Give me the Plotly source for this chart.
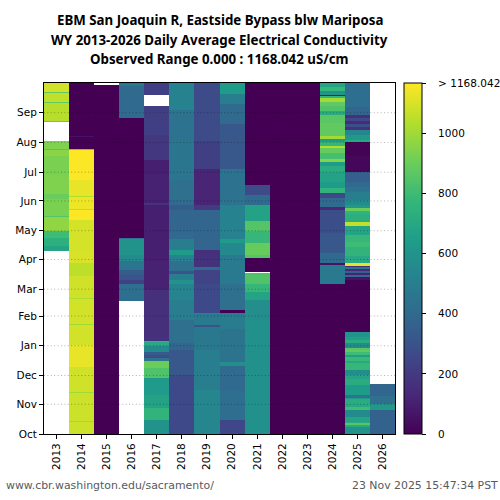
import plotly.graph_objects as go

# water years and month ticks (days since Oct 1)
years = list(range(2013, 2027))
month_days = [0, 31, 61, 92, 123, 151, 182, 212, 243, 273, 304, 335]
month_names = ['Oct', 'Nov', 'Dec', 'Jan', 'Feb', 'Mar', 'Apr', 'May', 'Jun', 'Jul', 'Aug', 'Sep']
cbar_vals = [0, 200, 400, 600, 800, 1000, 1168.042]
cbar_text = ['\u00a0\u00a0\u00a0' + s for s in ['0', '200', '400', '600', '800', '1000', '> 1168.042']]
ec_max = 1168.042

# daily EC per water year (last day of run, uS/cm)
# None = no data
ec_2013 = [(191, None), (196, 680), (204, 740), (212, 800), (226, 970), (227, 850), (245, 930), (250, 900),
           (270, 940), (290, 930), (296, 960), (297, 850), (306, 940), (325, None), (326, 880), (345, 1040),
           (346, 880), (356, 1060), (357, 880), (366, 1090)]
ec_2014 = [(13, 1080), (14, 1000), (43, 1080), (44, 1000), (70, 1085), (93, 1130), (114, 1090), (115, 1000),
           (141, 1090), (142, 1020), (165, 1085), (178, 1050), (190, 1100), (223, 1095), (234, 1168), (235, 1040),
           (247, 1140), (248, 1030), (265, 1130), (286, 1165), (296, 1168), (297, 900), (310, 0), (311, 60), (366, 0)]
ec_2015 = [(364, 0), (366, None)]
ec_2016 = [(139, None), (156, 420), (161, 230), (166, 300), (171, 340), (180, 460), (187, 560), (203, 600),
           (204, 440), (329, 0), (330, 320), (363, 400), (366, 480)]
ec_2017 = [(15, 600), (27, 760), (41, 670), (58, 630), (69, 840), (76, 900), (79, 440), (82, 280), (86, 340),
           (92, 560), (96, 700), (97, 760), (101, 170), (150, 160), (180, 110), (239, 100), (241, 170), (270, 110),
           (286, 100), (312, 190), (342, 220), (353, None), (366, 220)]
ec_2018 = [(62, 260), (88, 320), (95, 380), (119, 430), (140, 500), (156, 530), (161, 600), (167, 500), (170, 300),
           (180, 430), (187, 520), (192, 640), (203, 500), (212, 400), (234, 380), (239, 340), (244, 400), (265, 430),
           (306, 460), (338, 440), (366, 520)]
ec_2019 = [(46, 540), (88, 500), (112, 470), (114, 300), (125, 480), (126, 520), (156, 260), (171, 240), (174, 400),
           (187, 170), (192, 160), (234, 380), (239, 200), (276, 120), (306, 220), (366, 270)]
ec_2020 = [(15, 250), (45, 420), (71, 400), (75, 580), (110, 450), (126, 490), (129, 0), (156, 430), (187, 480),
           (199, 550), (203, 640), (239, 520), (276, 440), (323, 320), (344, 400), (355, 500), (366, 640)]
ec_2021 = [(119, 590), (140, 575), (148, 680), (156, 780), (168, 840), (169, None), (183, 0), (187, 850), (199, 890),
           (212, 780), (222, 850), (239, 670), (249, 400), (260, 270), (366, 0)]
ec_2022 = [(366, 0)]
ec_2023 = [(366, 0)]
ec_2024 = [(156, 0), (176, 480), (178, 60), (189, 400), (210, 320), (234, 280), (237, 130), (246, 400), (251, 250),
           (256, 760), (263, 640), (273, 670), (279, 720), (284, 640), (287, 950), (293, 820), (298, 890), (300, 1030),
           (304, 780), (308, 640), (311, 1000), (324, 880), (333, 860), (337, 720), (342, 840), (346, 880), (350, 1000),
           (352, 760), (354, 80), (358, 600), (362, 780), (366, 680)]
ec_2025 = [(7, 600), (9, 700), (11, 860), (13, 700), (18, 680), (25, 560), (28, 800), (31, 700), (36, 720), (38, 640),
           (41, 450), (51, 640), (57, 720), (62, 680), (67, 570), (74, 780), (76, 700), (80, 790), (82, 650), (85, 800),
           (88, 880), (90, 860), (95, 560), (98, 720), (101, 650), (106, 600), (161, 0), (164, 60), (166, 400), (168, 110),
           (170, 350), (172, 130), (174, 450), (175, 150), (178, 1120), (186, 700), (195, 760), (200, 800), (208, 780),
           (217, 680), (221, 1060), (229, 730), (233, 760), (236, 900), (239, 620), (244, 560), (252, 500), (258, 440),
           (263, 400), (273, 350), (290, 20), (304, 5), (307, 700), (312, 620), (317, 540), (320, 170), (323, 280),
           (326, 140), (329, 260), (333, 160), (341, 380), (366, 420)]
ec_2026 = [(25, 370), (31, 620), (40, 430), (52, 380), (366, None)]
ec_runs = [ec_2013, ec_2014, ec_2015, ec_2016, ec_2017, ec_2018, ec_2019, ec_2020, ec_2021, ec_2022, ec_2023,
           ec_2024, ec_2025, ec_2026]


def expand(runs):
    daily = []
    for last_day, val in runs:
        daily += [val] * (last_day - len(daily))
    return daily


columns = [expand(r) for r in ec_runs]
z = [[col[d] for col in columns] for d in range(366)]

fig = go.Figure()
fig.add_trace(go.Heatmap(
    x=years, y=[d + 0.5 for d in range(366)], z=z,
    colorscale='Viridis', zmin=0, zmax=ec_max,
    colorbar=dict(thickness=18, len=1, lenmode='fraction', x=1.0245, xanchor='left', y=0, yanchor='bottom',
                  xpad=0, ypad=0, tickmode='array', tickvals=cbar_vals, ticktext=cbar_text,
                  ticks='outside', ticklen=4, tickcolor='black', outlinecolor='black', outlinewidth=1,
                  tickfont=dict(family='DejaVu Sans', size=10.5, color='black')),
))

# dotted month grid lies on top of the cells
for d in month_days[1:]:
    fig.add_shape(type='line', xref='paper', yref='y', x0=0, x1=1, y0=d, y1=d, layer='above',
                  line=dict(color='rgba(0,0,0,0.3)', width=1, dash='1px,2.4px'))

titles = ['EBM San Joaquin R, Eastside Bypass blw Mariposa',
          'WY 2013-2026 Daily Average Electrical Conductivity',
          'Observed Range 0.000 : 1168.042 uS/cm']
for i, t in enumerate(titles):
    fig.add_annotation(text='<b>%s</b>' % t, xref='paper', yref='paper', x=0.5014, y=1 + (62.5 - 19 * i) / 351,
                       xanchor='center', yanchor='middle', showarrow=False,
                       font=dict(family='Noto Sans', size=13.3, color='black'))

fig.add_annotation(text='www.cbr.washington.edu/sacramento/', xref='paper', yref='paper', x=-0.114, y=-0.147,
                   xanchor='left', yanchor='middle', showarrow=False,
                   font=dict(family='DejaVu Sans', size=10.9, color='#555b60'))
fig.add_annotation(text='23 Nov 2025 15:47:34 PST', xref='paper', yref='paper', x=1.3, y=-0.147,
                   xanchor='right', yanchor='middle', showarrow=False,
                   font=dict(family='DejaVu Sans', size=10.9, color='#555b60'))

fig.update_xaxes(range=[2012.5, 2026.5], tickmode='array', tickvals=years, ticktext=[str(y) for y in years],
                 tickangle=-90, ticks='outside', ticklen=4, tickcolor='black', showgrid=False, zeroline=False,
                 showline=True, linecolor='black', linewidth=1, mirror=True,
                 tickfont=dict(family='DejaVu Sans', size=10.5, color='black'))
fig.update_yaxes(range=[0, 366], tickmode='array', tickvals=month_days, ticktext=month_names,
                 ticks='outside', ticklen=4, tickcolor='black', showgrid=False, zeroline=False,
                 showline=True, linecolor='black', linewidth=1, mirror=True,
                 tickfont=dict(family='DejaVu Sans', size=10.5, color='black'))
fig.update_layout(width=500, height=500, autosize=False, paper_bgcolor='white', plot_bgcolor='white',
                  margin=dict(l=44, r=105, t=83, b=66, pad=0, autoexpand=False), showlegend=False)

fig.write_html("out.html", config=dict(displayModeBar=False),
               post_script="document.body.style.margin='0';")
